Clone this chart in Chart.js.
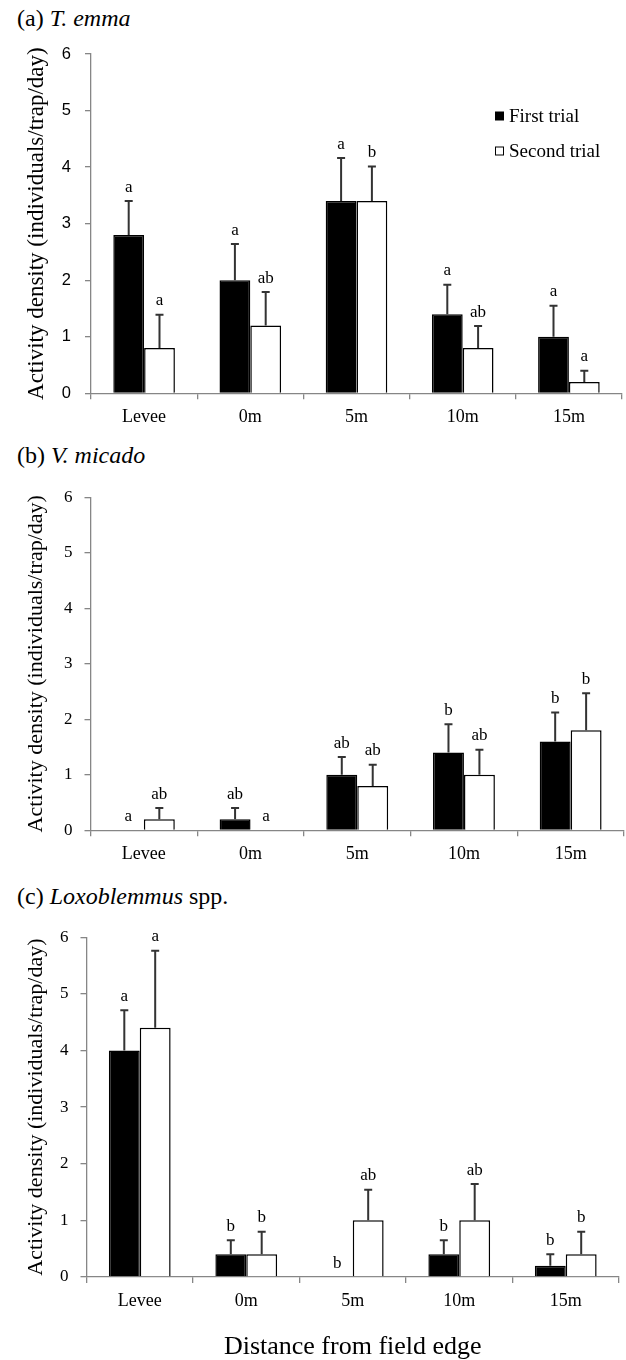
<!DOCTYPE html>
<html>
<head>
<meta charset="utf-8">
<script src="https://cdn.jsdelivr.net/npm/chart.js@4.4.1/dist/chart.umd.min.js"></script>
<style>
  html, body { margin: 0; padding: 0; background: #fff; }
  body { width: 626px; height: 1360px; position: relative; overflow: hidden;
         font-family: "Liberation Serif", "Times New Roman", serif; color: #000; }
  .ttl { position: absolute; left: 17px; font-size: 24px; line-height: 24px; white-space: nowrap; }
  .box { position: absolute; left: 0; width: 626px; }
</style>
</head>
<body>
<div class="ttl" style="top:6px">(a) <i>T. emma</i></div>
<div class="ttl" style="top:443px">(b) <i>V. micado</i></div>
<div class="ttl" style="top:884px">(c) <i>Loxoblemmus</i> spp.</div>

<div class="box" style="top:30px;height:410px"><canvas id="cA"></canvas></div>
<div class="box" style="top:475px;height:405px"><canvas id="cB"></canvas></div>
<div class="box" style="top:915px;height:445px"><canvas id="cC"></canvas></div>

<script>
// ---------- data ----------
const categories = ['Levee', '0m', '5m', '10m', '15m'];
const seriesNames = ['First trial', 'Second trial'];
const yTicks = [0, 1, 2, 3, 4, 5, 6];
const yTitle = 'Activity density (individuals/trap/day)';
const xTitle = 'Distance from field edge';

// (a) T. emma
const emmaFirst = [2.8, 2.0, 3.4, 1.4, 1.0];
const emmaFirstErr = [0.6, 0.64, 0.76, 0.52, 0.55];
const emmaFirstLetters = ['a', 'a', 'a', 'a', 'a'];
const emmaSecond = [0.8, 1.2, 3.4, 0.8, 0.2];
const emmaSecondErr = [0.59, 0.59, 0.61, 0.39, 0.2];
const emmaSecondLetters = ['a', 'ab', 'b', 'ab', 'a'];

// (b) V. micado
const micadoFirst = [0, 0.2, 1.0, 1.4, 1.6];
const micadoFirstErr = [0, 0.2, 0.32, 0.51, 0.52];
const micadoFirstLetters = ['a', 'ab', 'ab', 'b', 'b'];
const micadoSecond = [0.2, 0, 0.8, 1.0, 1.8];
const micadoSecondErr = [0.2, 0, 0.38, 0.45, 0.67];
const micadoSecondLetters = ['ab', 'a', 'ab', 'ab', 'b'];

// (c) Loxoblemmus spp.
const loxoFirst = [4.0, 0.4, 0, 0.4, 0.2];
const loxoFirstErr = [0.71, 0.25, 0, 0.25, 0.2];
const loxoFirstLetters = ['a', 'b', 'b', 'b', 'b'];
const loxoSecond = [4.4, 0.4, 1.0, 1.0, 0.4];
const loxoSecondErr = [1.36, 0.4, 0.54, 0.64, 0.4];
const loxoSecondLetters = ['a', 'b', 'ab', 'ab', 'b'];

// ---------- styling ----------
const SERIF = '"Liberation Serif", "Times New Roman", serif';
const SANS = '"Liberation Sans", Arial, sans-serif';
const AXIS = '#868686';

const errPlugin = {
  id: 'errLetters',
  afterDatasetsDraw(chart) {
    const ctx = chart.ctx, y = chart.scales.y;
    ctx.save();
    chart.data.datasets.forEach((ds, i) => {
      const meta = chart.getDatasetMeta(i);
      meta.data.forEach((bar, j) => {
        const v = ds.data[j], e = ds.errors[j];
        const top = y.getPixelForValue(v + e);
        if (e > 0) {
          ctx.strokeStyle = '#333';
          ctx.lineWidth = 2;
          ctx.beginPath();
          ctx.moveTo(bar.x, bar.y);
          ctx.lineTo(bar.x, top);
          ctx.moveTo(bar.x - 4, top);
          ctx.lineTo(bar.x + 4, top);
          ctx.stroke();
        }
        ctx.fillStyle = '#000';
        ctx.font = '17px ' + SERIF;
        ctx.textAlign = 'center';
        ctx.textBaseline = 'alphabetic';
        ctx.fillText(ds.letters[j], bar.x, top - 9.5);
      });
    });
    ctx.restore();
  }
};

const legendPlugin = {
  id: 'innerLegend',
  afterDraw(chart, args, opts) {
    if (!opts || !opts.show) return;
    const ctx = chart.ctx, a = chart.chartArea;
    ctx.save();
    chart.data.datasets.forEach((ds, i) => {
      const sx = a.right - 127, cy = a.top + 62 + i * 35;
      ctx.fillStyle = ds.backgroundColor;
      ctx.fillRect(sx, cy - 4.5, 9, 9);
      if (ds.backgroundColor !== '#000') {
        ctx.strokeStyle = '#000';
        ctx.lineWidth = 1;
        ctx.strokeRect(sx + 0.5, cy - 4, 8, 8);
      }
      ctx.fillStyle = '#000';
      ctx.font = '19px ' + SERIF;
      ctx.textAlign = 'left';
      ctx.textBaseline = 'middle';
      ctx.fillText(ds.label, sx + 14, cy + 1);
    });
    ctx.restore();
  }
};

function makeChart(id, p) {
  const datasets = [
    { label: seriesNames[0], data: p.first, errors: p.firstErr, letters: p.firstLetters,
      backgroundColor: '#000', borderColor: '#000', borderWidth: 1.5 },
    { label: seriesNames[1], data: p.second, errors: p.secondErr, letters: p.secondLetters,
      backgroundColor: '#fff', borderColor: '#000', borderWidth: 1.5 }
  ];
  return new Chart(document.getElementById(id), {
    type: 'bar',
    data: { labels: categories, datasets },
    options: {
      responsive: true,
      maintainAspectRatio: false,
      animation: false,
      events: [],
      layout: { padding: { top: p.padTop, right: p.padRight, left: 0, bottom: 0 } },
      datasets: { bar: { categoryPercentage: 0.58, barPercentage: 1.0 } },
      plugins: {
        legend: { display: false },
        tooltip: { enabled: false },
        innerLegend: { show: !!p.legend }
      },
      scales: {
        x: {
          offset: true,
          grid: { display: true, drawOnChartArea: false, drawTicks: true, tickLength: 6,
                  color: AXIS, lineWidth: 1.3, offset: true },
          border: { display: true, color: AXIS, width: 1.3 },
          ticks: { color: '#000', font: { family: SERIF, size: 18 }, padding: 7, maxRotation: 0 },
          title: p.xTitle ? { display: true, text: xTitle, color: '#000',
                  font: { family: SERIF, size: 26, lineHeight: 1 }, padding: { top: 0, bottom: 0 } }
                : { display: false },
          afterFit: s => { s.height = p.xHeight; }
        },
        y: {
          min: 0, max: 6,
          afterBuildTicks: s => { s.ticks = yTicks.map(v => ({ value: v })); },
          grid: { display: true, drawOnChartArea: false, drawTicks: true, tickLength: 6,
                  color: AXIS, lineWidth: 1.3 },
          border: { display: true, color: AXIS, width: 1.3 },
          ticks: { color: '#000', font: { family: p.tickFont, size: p.tickSize }, padding: p.tickPad },
          title: { display: true, text: yTitle, color: '#000',
                   font: { family: SERIF, size: p.yTitleSize, lineHeight: 1.2 },
                   padding: { top: p.yTitlePad, bottom: 0 } },
          afterFit: s => { s.width = p.yWidth; }
        }
      }
    },
    plugins: [errPlugin, legendPlugin]
  });
}

makeChart('cA', {
  first: emmaFirst, firstErr: emmaFirstErr, firstLetters: emmaFirstLetters,
  second: emmaSecond, secondErr: emmaSecondErr, secondLetters: emmaSecondLetters,
  padTop: 24, padRight: 4, xHeight: 46.7, yWidth: 91,
  tickFont: SANS, tickSize: 16.5, tickPad: 14, yTitleSize: 23, yTitlePad: 23,
  legend: true, xTitle: false
});
makeChart('cB', {
  first: micadoFirst, firstErr: micadoFirstErr, firstLetters: micadoFirstLetters,
  second: micadoSecond, secondErr: micadoSecondErr, secondLetters: micadoSecondLetters,
  padTop: 15, padRight: 2, xHeight: 49.7, yWidth: 90.5,
  tickFont: SERIF, tickSize: 17, tickPad: 12, yTitleSize: 22, yTitlePad: 23,
  legend: false, xTitle: false
});
makeChart('cC', {
  first: loxoFirst, firstErr: loxoFirstErr, firstLetters: loxoFirstLetters,
  second: loxoSecond, secondErr: loxoSecondErr, secondLetters: loxoSecondLetters,
  padTop: 22, padRight: 7, xHeight: 83, yWidth: 86.5,
  tickFont: SERIF, tickSize: 17, tickPad: 12, yTitleSize: 22, yTitlePad: 23,
  legend: false, xTitle: true
});
</script>
</body>
</html>
